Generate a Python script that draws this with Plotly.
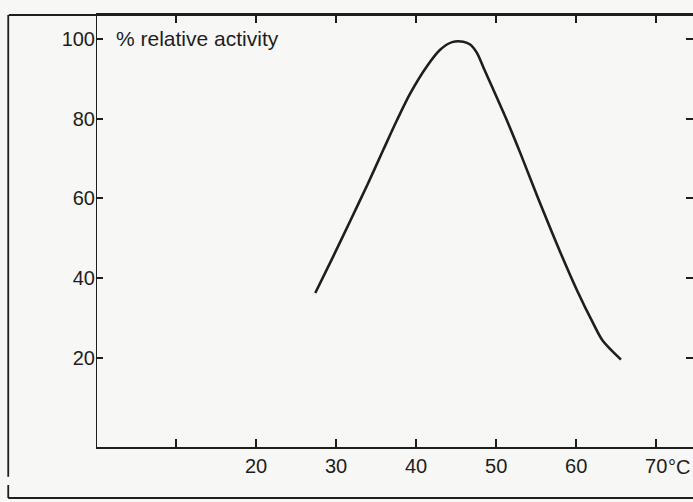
import plotly.graph_objects as go

# Temperature (°C) and relative enzyme activity (%)
temperature = [27.4, 29.6, 31.75, 33.9, 35.9, 37.6, 39.25, 41.4, 43.0, 44.5,
               45.9, 46.75, 47.6, 48.4, 49.6, 51.4, 53.0, 54.6, 55.9, 58.0,
               60.1, 62.1, 63.3, 65.6]
activity = [36.3, 45.3, 54.3, 63.4, 72.2, 79.6, 86.3, 93.3, 97.3, 99.2,
            99.3, 98.6, 96.5, 92.9, 87.5, 79.3, 71.5, 63.3, 56.8, 46.6,
            37.0, 28.8, 24.4, 19.6]

x_ticks = [0, 10, 20, 30, 40, 50, 60, 70]
x_labels = ["", "", "20", "30", "40", "50", "60", "70"]
y_ticks = [20, 40, 60, 80, 100]
y_labels = ["20", "40", "60", "80", "100"]

ink = "#1e1e1e"
tick_font = dict(family="Liberation Sans, Arial, sans-serif", size=20, color=ink)
title_font = dict(family="Liberation Sans, Arial, sans-serif", size=21, color=ink)

fig = go.Figure()
fig.add_trace(go.Scatter(
    x=temperature, y=activity, mode="lines",
    line=dict(color=ink, width=2.6, shape="spline", smoothing=0.8),
    hoverinfo="skip", showlegend=False,
))

fig.update_layout(
    width=693, height=502,
    margin=dict(l=96, r=0, t=15, b=55),
    paper_bgcolor="#f7f7f5", plot_bgcolor="#f7f7f5",
    font=tick_font,
    xaxis=dict(
        range=[0, 74.6], tickvals=x_ticks, ticktext=x_labels,
        showgrid=False, zeroline=False, showline=True, linecolor=ink, linewidth=2,
        ticks="inside", ticklen=8, tickwidth=2, tickcolor=ink, mirror="ticks",
        tickfont=tick_font,
    ),
    yaxis=dict(
        range=[-2.3, 106], tickvals=y_ticks, ticktext=y_labels,
        showgrid=False, zeroline=False, showline=False,
        ticks="inside", ticklen=7, tickwidth=2, tickcolor=ink, mirror="ticks",
        tickfont=tick_font,
    ),
    annotations=[
        dict(text="% relative activity", x=0.03, xref="paper", y=100, yref="y",
             xanchor="left", yanchor="middle", showarrow=False, font=title_font),
        dict(text="°C", x=70, xref="x", y=0, yref="paper", xanchor="left",
             yanchor="top", xshift=10, yshift=-7, showarrow=False, font=tick_font),
    ],
    shapes=[
        # left axis line
        dict(type="line", xref="x", yref="paper", x0=0, x1=0, y0=0, y1=1,
             line=dict(color=ink, width=2)),
        # outer frame: top edge, left edge (with a small break), bottom edge
        dict(type="line", xref="paper", yref="paper", x0=-0.146, x1=1.0, y0=1.0, y1=1.0,
             line=dict(color=ink, width=2)),
        dict(type="line", xref="paper", yref="paper", x0=-0.147, x1=-0.147, y0=1.0, y1=-0.069,
             line=dict(color=ink, width=1.8)),
        dict(type="line", xref="paper", yref="paper", x0=-0.147, x1=-0.147, y0=-0.088, y1=-0.118,
             line=dict(color=ink, width=1.8)),
        dict(type="line", xref="paper", yref="paper", x0=-0.147, x1=1.0, y0=-0.118, y1=-0.118,
             line=dict(color=ink, width=2)),
    ],
)

fig.write_html("out.html")
